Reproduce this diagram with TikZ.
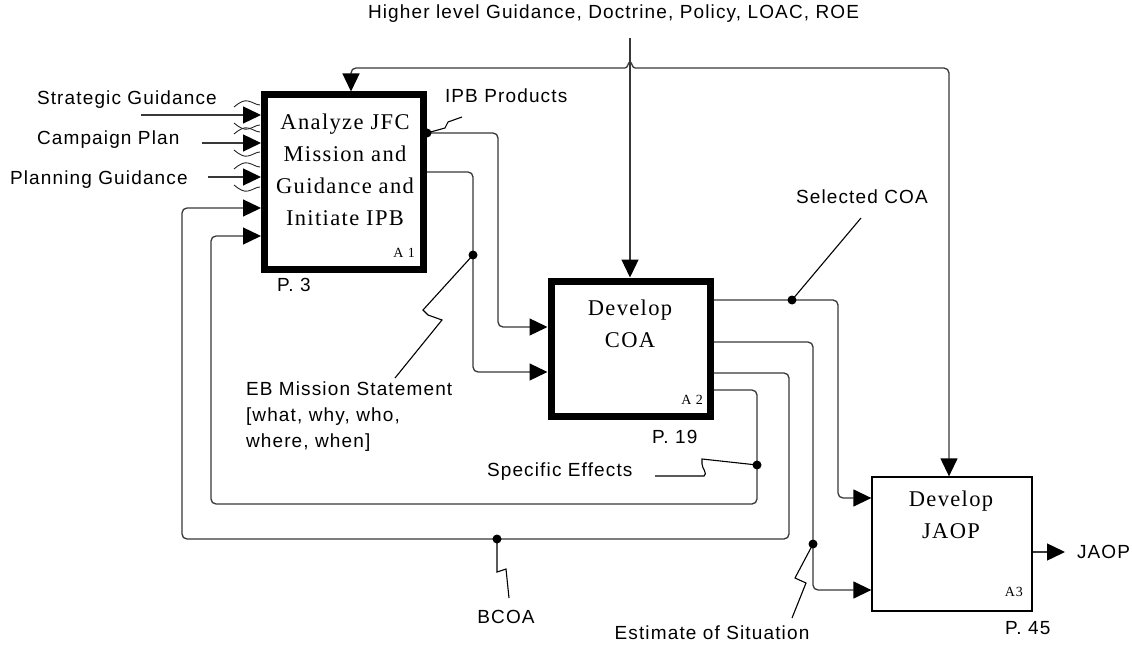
\documentclass[tikz,border=0pt]{standalone}
\usepackage{fontspec}
\setmainfont{Liberation Serif}
\newfontfamily\labfont[LetterSpace=6]{Liberation Sans}
\newfontfamily\boxfont[LetterSpace=6]{Liberation Serif}
\usetikzlibrary{arrows.meta,calc}
\begin{document}
\begin{tikzpicture}[x=1pt,y=-1pt,
  lbl/.style={font=\labfont\fontsize{19}{26}\selectfont, inner sep=0pt, outer sep=0pt},
  boxtxt/.style={font=\boxfont\fontsize{22.5}{32}\selectfont, align=center, inner sep=0pt},
  idx/.style={font=\boxfont\fontsize{14}{16}\selectfont, inner sep=0pt},
  proc/.style={draw, line width=7pt, inner sep=0pt},
  proclite/.style={draw, line width=1.3pt, inner sep=0pt},
  conn/.style={draw=black!78, line width=1.3pt, rounded corners=5pt},
  tipa/.style={-{Triangle[length=18pt,width=17pt,black]}},
  tipb/.style={{Triangle[length=18pt,width=17pt,black]}-{Triangle[length=18pt,width=17pt,black]}},
  lead/.style={draw=black, line width=1.1pt},
  tunnel/.style={draw=black!85, line width=0.9pt},
  dot/.style={circle, fill=black, inner sep=0pt, minimum size=9pt}]

\useasboundingbox (0,0) rectangle (1132,647);
\fill[white] (0,0) rectangle (1132,647);

% boxes
\node[proc, minimum width=159pt, minimum height=174pt] (A1) at (344,182) {};
\node[proc, minimum width=159pt, minimum height=135.5pt] (A2) at (630.5,348.75) {};
\node[proclite, minimum width=160pt, minimum height=134pt] (A3) at (952,544) {};

\node[boxtxt] (A1t) at (345,169.5) {Analyze JFC\\Mission and\\Guidance and\\Initiate IPB};
\node[boxtxt] (A2t) at (630,323.5) {Develop\\COA};
\node[boxtxt] (A3t) at (951,515) {Develop\\JAOP};
\node[idx, anchor=east] (A1i) at (415,253) {A 1};
\node[idx, anchor=east] (A2i) at (703,400) {A 2};
\node[idx, anchor=east] (A3i) at (1023,592) {A3};

% labels
\node[lbl, anchor=west] (hl) at (368,14) {Higher level Guidance, Doctrine, Policy, LOAC, ROE};
\node[lbl, anchor=west] (sg) at (37,100) {Strategic Guidance};
\node[lbl, anchor=west] (cp) at (37,140) {Campaign Plan};
\node[lbl, anchor=west] (pg) at (10,180) {Planning Guidance};
\node[lbl, anchor=west] (ipb) at (445,96) {IPB Products};
\node[lbl, anchor=west] (sel) at (796,197) {Selected COA};
\node[lbl, anchor=north west, align=left] (eb) at (246,382) {EB Mission Statement\\{[}what, why, who,\\where, when{]}};
\node[lbl, anchor=west] (se) at (487,472) {Specific Effects};
\node[lbl] (bc) at (506,617) {BCOA};
\node[lbl] (es) at (712,633) {Estimate of Situation};
\node[lbl, anchor=west] (jo) at (1077,552) {JAOP};
\node[lbl, anchor=west] (p3) at (277,285) {P. 3};
\node[lbl, anchor=west] (p19) at (652,437) {P. 19};
\node[lbl, anchor=west] (p45) at (1005,628) {P. 45};

% free ends
\coordinate (sgs) at (141,115);
\coordinate (cps) at (202,143);
\coordinate (pgs) at (208,177);
\coordinate (hls) at (630,38);

% inputs to A1
\draw[conn,tipa] (sgs) -- (A1.west |- sgs);
\draw[conn,tipa] (cps) -- (A1.west |- cps);
\draw[conn,tipa] (pgs) -- (A1.west |- pgs);

% tunnel marks
\foreach \yy in {115,142,177} {
  \draw[tunnel] (234,\yy-8) .. controls (240,\yy-13) and (244,\yy-15) .. (248,\yy-14) .. controls (253,\yy-13) and (256,\yy-10) .. (260,\yy-10);
  \draw[tunnel] (234,\yy+8) .. controls (240,\yy+13) and (244,\yy+15) .. (248,\yy+14) .. controls (253,\yy+13) and (256,\yy+10) .. (260,\yy+10);
}

% top loop (controls to A1 and A3)
\draw[conn,tipb] (A1.north -| 351,0) -- (351,68) -- (949,68) -- (A3.north -| 949,0);
\fill[white] (625,65) rectangle (635,71);
\draw[line width=1.3pt, black!78] (625,68) .. controls (628,68) and (628,62) .. (630,62) .. controls (632,62) and (632,68) .. (635,68);
\draw[conn,tipa] (hls) -- (A2.north -| hls);

% A1 outputs
\draw[conn,tipa] (A1.east |- 0,133) -- (498,133) -- (498,327) -- (A2.west |- 0,327);
\draw[conn,tipa] (A1.east |- 0,172) -- (473,172) -- (473,372) -- (A2.west |- 0,372);

% A2 outputs
\draw[conn,tipa] (A2.east |- 0,300) -- (838,300) -- (838,498) -- (A3.west |- 0,498);
\draw[conn,tipa] (A2.east |- 0,342) -- (813,342) -- (813,590) -- (A3.west |- 0,590);
\draw[conn,tipa] (A2.east |- 0,373) -- (789,373) -- (789,539) -- (182,539) -- (182,208) -- (A1.west |- 0,208);
\draw[conn,tipa] (A2.east |- 0,390) -- (757,390) -- (757,504) -- (211,504) -- (211,236) -- (A1.west |- 0,236);

% A3 output
\draw[conn,tipa] (A3.east |- jo.west) -- ([xshift=-12pt]jo.west);

% dots
\node[dot] (d1) at (A1.east |- 0,133) {};
\node[dot] (d2) at (473,255) {};
\node[dot] (d3) at (792,300) {};
\node[dot] (d4) at (757,465) {};
\node[dot] (d5) at (497,539) {};
\node[dot] (d6) at (813,544) {};

% leaders
\draw[lead] (d1.center) -- (445,128) -- (448,122) -- (462,117);
\draw[lead] (d3.center) -- (861,218);
\draw[lead] (d2.center) -- (423,310) -- (428,315) -- (442,320) -- (395,378);
\draw[lead] (655,476) -- (704,476) .. controls (708,474) and (702,468) .. (702,464) -- (702,459) -- (d4.center);
\draw[lead] (d5.center) -- (497,572) -- (506,569) -- (509,598);
\draw[lead] (d6.center) -- (795,578) -- (806,583) -- (792,618);
\end{tikzpicture}
\end{document}
